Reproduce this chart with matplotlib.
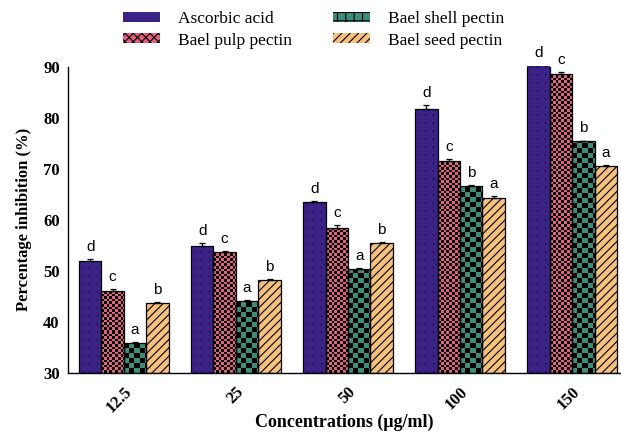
import numpy as np
import matplotlib.pyplot as plt
from matplotlib.patches import Patch
from matplotlib.colors import to_rgb

# data: percentage inhibition at each concentration
conc = ['12.5', '25', '50', '100', '150']
names = ['Ascorbic acid', 'Bael pulp pectin', 'Bael shell pectin', 'Bael seed pectin']
ascorbic = [51.9, 54.8, 63.4, 81.6, 90.2]
pulp = [46.1, 53.7, 58.4, 71.5, 88.6]
shell = [35.8, 44.0, 50.3, 66.5, 75.4]
seed = [43.7, 48.2, 55.5, 64.2, 70.6]
ascorbic_err = [0.4, 0.6, 0.3, 0.8, 0.1]
pulp_err = [0.3, 0.2, 0.5, 0.3, 0.4]
shell_err = [0.2, 0.2, 0.2, 0.3, 0.1]
seed_err = [0.2, 0.1, 0.1, 0.5, 0.1]
ascorbic_lab = ['d', 'd', 'd', 'd', 'd']
pulp_lab = ['c', 'c', 'c', 'c', 'c']
shell_lab = ['a', 'a', 'a', 'b', 'b']
seed_lab = ['b', 'b', 'b', 'a', 'a']

colors = ['#3b2286', '#e0607f', '#3d8c7c', '#f6c17c']
hatches = [None, None, None, '////']


def fill_pattern(kind, nr, nc):
    # boolean mask at pixel resolution, True = dark mark
    r, c = np.indices((nr, nc))
    if kind == 'dots':
        return ((r % 8) < 2) & ((c % 7) == 3)
    if kind == 'fine':
        return ((r * 10 // 26) + (c * 10 // 26)) % 2 == 1
    if kind == 'coarse':
        return ((r // 5) + (c // 5)) % 2 == 1
    return np.zeros((nr, nc), bool)


patterns = ['dots', 'fine', 'coarse', None]
mark_color = ['#1a0f45', '#000000', '#000000', None]

plt.rcParams['hatch.linewidth'] = 0.8
fig = plt.figure(figsize=(6.21, 4.32), dpi=100)
ax = fig.add_axes([0.1095, 0.137, 0.8905, 0.709])

x = np.arange(len(conc)) * 5.0
offsets = [-1.5, -0.5, 0.5, 1.5]
vals = [ascorbic, pulp, shell, seed]
errs = [ascorbic_err, pulp_err, shell_err, seed_err]
labs = [ascorbic_lab, pulp_lab, shell_lab, seed_lab]

ax.set_xlim(-2.49, 22.18)
ax.set_ylim(30, 90)

bars = []
for i in range(4):
    h = np.array(vals[i]) - 30
    e = np.array(errs[i])
    b = ax.bar(x + offsets[i], h, width=1.0, bottom=30, color=colors[i],
               edgecolor='black', linewidth=0.9, hatch=hatches[i], zorder=2)
    ax.errorbar(x + offsets[i], vals[i], yerr=[np.zeros_like(e), e], fmt='none',
                ecolor='black', elinewidth=0.9, capsize=2.5, capthick=0.9, zorder=4)
    for xi, v, ei, t in zip(x + offsets[i], vals[i], e, labs[i]):
        ax.text(xi, v + ei + 1.0, t, ha='center', va='bottom', fontsize=11,
                family='Liberation Sans', zorder=5)
    bars.append(b)

# textured fills (dots / checkerboards) drawn as clipped images
fig.canvas.draw()
px_x = ax.transData.transform((1, 0))[0] - ax.transData.transform((0, 0))[0]
px_y = ax.transData.transform((0, 1))[1] - ax.transData.transform((0, 0))[1]
for i in range(4):
    if patterns[i] is None:
        continue
    base = np.array(to_rgb(colors[i]))
    dark = np.array(to_rgb(mark_color[i]))
    for p in bars[i].patches:
        x0, y0 = p.get_x(), p.get_y()
        w, hgt = p.get_width(), p.get_height()
        nc = max(1, int(round(w * px_x)))
        nr = max(1, int(round(hgt * px_y)))
        mask = fill_pattern(patterns[i], nr, nc)
        img = np.where(mask[..., None], dark, base)
        im = ax.imshow(img, extent=(x0, x0 + w, y0, y0 + hgt),
                       origin='lower', interpolation='nearest', aspect='auto', zorder=2.5)
        im.set_clip_path(p)
        p.set_zorder(3)
        p.set_facecolor('none')

ax.set_xlim(-2.49, 22.18)
ax.set_ylim(30, 90)

ax.spines['top'].set_visible(False)
ax.spines['right'].set_visible(False)
ax.spines['left'].set_linewidth(1.0)
ax.spines['bottom'].set_linewidth(1.0)
ax.tick_params(length=0, pad=6)
ax.tick_params(axis='x', pad=8)
ax.set_yticks([30, 40, 50, 60, 70, 80, 90])
ax.set_xticks(x)
ax.set_xticklabels(conc, rotation=45, ha='right', rotation_mode='anchor')
for t in ax.get_xticklabels() + ax.get_yticklabels():
    t.set_family('Liberation Serif')
    t.set_fontweight('bold')
    t.set_fontsize(12)

ax.set_ylabel('Percentage inhibition (%)', family='Liberation Serif',
              fontweight='bold', fontsize=12, labelpad=8)
ax.set_xlabel('Concentrations (\u03bcg/ml)', family='Liberation Serif',
              fontweight='bold', fontsize=13, labelpad=0)
ax.xaxis.set_label_coords(0.5, -0.135)

legend_hatch = [None, 'xxxx', '++', '////']
handles = [Patch(facecolor=colors[i], edgecolor='black', hatch=legend_hatch[i],
                 linewidth=0) for i in range(4)]
fig.legend(handles, names, loc='upper left', bbox_to_anchor=(0.173, 1.01), ncol=2,
           frameon=False, prop={'family': 'Liberation Serif', 'size': 12.5},
           handlelength=2.1, handleheight=0.5, columnspacing=2.4,
           labelspacing=0.3, handletextpad=1.05)

fig.savefig('out.png', dpi=100)
